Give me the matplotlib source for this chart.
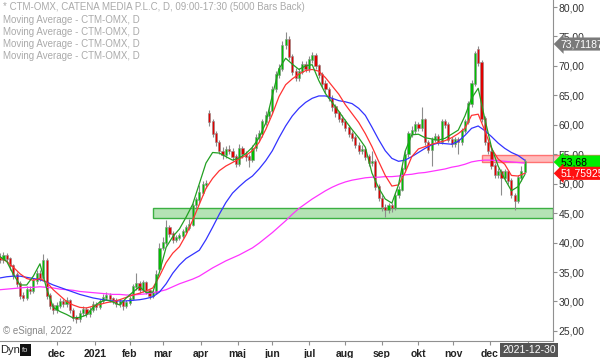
import numpy as np
import pandas as pd
import matplotlib
matplotlib.use('Agg')
import matplotlib.pyplot as plt
from matplotlib.patches import Rectangle

plt.rcParams['font.family'] = ['Liberation Sans', 'DejaVu Sans']

# ===== CTM-OMX daily candles (one candle per two trading days)
opens = [37.5, 37.0, 37.8, 37.2, 36.0, 34.5, 33.0, 31.0, 30.6, 32.0,
         31.8, 33.5, 34.8, 34.0, 37.0, 31.0, 29.3, 28.5, 29.3, 30.0,
         29.5, 30.2, 28.5, 27.2, 27.0, 28.0, 28.6, 27.8, 28.5, 29.5,
         29.0, 30.0, 30.6, 31.0, 30.4, 30.2, 29.5, 30.0, 29.2, 29.8,
         30.5, 32.5, 33.0, 32.0, 33.2, 31.8, 31.0, 31.5, 35.5, 39.0,
         40.0, 42.5, 41.5, 40.5, 40.8, 41.2, 41.8, 42.5, 43.0, 46.3,
         47.2, 48.5, 49.8, 61.8, 60.5, 58.5, 57.0, 55.5, 54.8, 55.8,
         55.5, 54.5, 53.3, 56.0, 55.0, 54.5, 54.0, 56.0, 57.8, 58.5,
         60.5, 61.5, 62.3, 66.0, 68.5, 69.5, 73.5, 74.5, 71.5, 69.0,
         68.0, 69.0, 70.2, 69.5, 71.0, 71.8, 70.0, 68.5, 67.0, 66.0,
         64.5, 63.0, 62.0, 61.0, 60.5, 59.5, 58.5, 57.8, 56.5, 55.5,
         55.8, 54.5, 53.5, 53.8, 49.5, 47.5, 46.0, 45.5, 46.3, 45.8,
         48.0, 49.0, 52.5, 55.0, 58.5, 59.0, 60.0, 59.5, 60.8, 57.0,
         55.8, 57.5, 58.0, 57.0, 60.5, 60.0, 57.5, 56.8, 57.5, 57.0,
         59.0, 60.5, 63.5, 67.0, 72.8, 70.5, 61.0, 57.0, 55.5, 53.0,
         51.5, 52.0, 51.0, 52.0, 50.5, 48.0, 47.0, 51.0, 52.0]
closes = [37.0, 37.8, 37.2, 36.0, 34.5, 33.0, 31.0, 30.6, 32.0, 31.8,
          33.5, 34.8, 34.0, 37.0, 31.0, 29.3, 28.5, 29.3, 30.0, 29.5,
          30.2, 28.5, 27.2, 27.0, 28.0, 28.6, 27.8, 28.5, 29.5, 29.0,
          30.0, 30.6, 31.0, 30.4, 30.2, 29.5, 30.0, 29.2, 29.8, 30.5,
          32.5, 33.0, 32.0, 33.2, 31.8, 31.0, 31.5, 34.5, 39.0, 40.0,
          42.5, 41.5, 40.5, 40.8, 41.2, 41.8, 42.5, 43.0, 46.3, 47.2,
          48.5, 49.8, 50.0, 60.5, 58.5, 57.0, 55.5, 54.8, 55.8, 55.5,
          54.5, 53.3, 56.0, 55.0, 54.5, 54.0, 56.0, 57.8, 58.5, 60.5,
          61.5, 62.3, 66.0, 68.5, 69.5, 73.5, 74.5, 71.5, 69.0, 68.0,
          69.0, 70.2, 69.5, 71.0, 71.8, 70.0, 68.5, 67.0, 66.0, 64.5,
          63.0, 62.0, 61.0, 60.5, 59.5, 58.5, 57.8, 56.5, 55.5, 55.8,
          54.5, 53.5, 53.8, 49.5, 47.5, 46.0, 45.5, 46.3, 45.8, 48.0,
          49.0, 52.5, 55.0, 58.5, 59.0, 60.0, 59.5, 60.8, 57.0, 55.8,
          57.5, 58.0, 57.0, 60.5, 60.0, 57.5, 56.8, 57.5, 57.0, 59.0,
          60.5, 63.5, 67.0, 72.0, 70.5, 61.0, 57.0, 55.5, 53.0, 51.5,
          52.0, 51.0, 52.0, 50.5, 48.0, 47.0, 51.0, 52.0, 53.68]
highs = [38.2, 38.4, 38.3, 37.6, 36.4, 35.0, 33.4, 31.6, 32.6, 32.6,
         34.0, 35.3, 35.4, 38.0, 37.4, 31.5, 29.8, 29.9, 30.6, 30.5,
         30.8, 30.5, 28.9, 27.7, 28.5, 29.2, 29.0, 29.0, 30.0, 29.9,
         30.5, 31.2, 31.6, 31.4, 30.8, 30.6, 30.5, 30.3, 30.3, 31.0,
         33.0, 34.8, 33.4, 33.7, 33.5, 32.2, 32.0, 35.3, 40.0, 41.0,
         43.8, 43.0, 41.9, 41.3, 41.7, 42.3, 43.0, 44.0, 46.8, 47.8,
         49.8, 50.4, 50.6, 62.5, 61.0, 59.0, 57.4, 56.3, 56.4, 56.6,
         56.0, 55.0, 56.8, 56.4, 55.6, 55.0, 56.6, 58.5, 59.2, 61.0,
         62.3, 63.0, 66.6, 69.2, 70.3, 74.2, 75.8, 75.0, 72.0, 69.6,
         69.6, 70.8, 70.8, 71.6, 72.3, 72.2, 70.4, 69.0, 67.6, 66.4,
         65.0, 63.6, 62.4, 61.6, 61.0, 60.0, 59.0, 58.2, 57.0, 56.5,
         56.2, 55.0, 55.5, 54.2, 50.0, 48.0, 46.6, 46.8, 46.8, 48.5,
         49.6, 53.0, 55.6, 59.0, 59.8, 60.6, 60.5, 63.0, 61.2, 57.5,
         58.0, 58.6, 58.4, 61.0, 61.0, 60.4, 58.0, 58.0, 58.0, 59.5,
         61.0, 64.0, 67.6, 72.5, 73.4, 71.0, 61.5, 57.5, 56.0, 53.5,
         52.6, 52.5, 52.5, 52.4, 51.0, 48.5, 51.5, 53.0, 54.2]
lows = [36.5, 36.6, 36.7, 35.4, 33.9, 32.4, 30.4, 30.0, 30.2, 31.2,
        31.4, 33.0, 33.5, 33.8, 30.5, 28.7, 27.8, 28.0, 28.9, 29.0,
        29.1, 28.0, 26.7, 26.4, 26.6, 27.6, 27.3, 27.4, 28.2, 28.5,
        28.7, 29.7, 30.2, 29.9, 29.6, 29.0, 29.1, 28.6, 28.9, 29.4,
        30.2, 32.0, 31.5, 31.6, 31.3, 30.5, 30.6, 31.2, 35.2, 38.8,
        39.6, 40.9, 40.0, 40.1, 40.4, 40.8, 41.4, 42.1, 42.8, 45.8,
        46.8, 48.0, 49.2, 59.8, 58.0, 56.4, 55.0, 54.2, 54.4, 55.0,
        53.8, 52.8, 53.0, 54.4, 53.9, 52.8, 53.6, 55.6, 57.2, 58.0,
        60.0, 60.9, 62.0, 65.6, 68.0, 69.2, 72.8, 71.0, 68.4, 67.4,
        67.5, 68.6, 68.9, 69.0, 70.5, 69.4, 68.0, 66.4, 65.4, 64.0,
        62.4, 61.4, 60.4, 60.0, 59.0, 57.9, 57.2, 56.0, 55.0, 55.0,
        54.0, 53.0, 53.0, 49.0, 47.0, 45.4, 44.3, 45.0, 45.2, 45.5,
        47.6, 48.8, 52.0, 54.6, 58.0, 58.5, 58.9, 59.0, 56.5, 55.2,
        53.0, 57.0, 56.5, 56.8, 59.4, 57.0, 56.2, 56.3, 55.0, 56.6,
        58.6, 60.2, 63.0, 66.6, 70.0, 60.5, 56.5, 55.0, 52.5, 51.0,
        51.0, 48.0, 50.5, 50.0, 47.5, 45.6, 46.8, 50.5, 51.6]

# ===== moving averages, sampled every second candle
ma_fast = [37.6, 36.8, 34.6, 32.8, 32.8, 34.3, 36.4, 32.2, 29.0, 28.3,
           27.8, 27.2, 27.3, 27.7, 29.0, 29.9, 30.3, 29.9, 29.4, 30.6,
           31.6, 32.5, 31.5, 31.6, 35.0, 39.2, 41.0, 42.3, 44.3, 46.5,
           50.0, 53.5, 55.3, 55.2, 54.6, 54.0, 54.4, 55.1, 56.2, 57.8,
           60.3, 65.0, 69.5, 71.3, 70.3, 69.4, 70.0, 70.2, 67.5, 65.3,
           63.8, 62.3, 60.7, 59.2, 57.8, 56.2, 51.8, 49.3, 47.4, 46.7,
           49.8, 55.5, 58.3, 58.4, 57.8, 57.6, 57.4, 57.7, 58.4, 59.1,
           61.5, 64.5, 66.2, 61.0, 56.2, 53.0, 50.8, 48.8, 49.5, 51.5]
ma_mid = [37.4, 36.8, 35.8, 34.7, 33.9, 33.6, 33.9, 33.3, 32.0, 31.0,
          30.0, 29.4, 29.0, 28.9, 29.2, 29.5, 29.8, 30.0, 30.3, 30.7,
          31.1, 31.4, 31.8, 32.3, 34.3, 36.6, 38.2, 39.3, 41.3, 43.8,
          46.5, 49.2, 50.9, 52.2, 53.0, 53.6, 54.2, 54.8, 55.6, 57.0,
          59.2, 61.8, 64.8, 66.8, 67.8, 68.6, 69.2, 69.4, 69.1, 68.0,
          66.6, 65.2, 63.4, 61.9, 60.4, 58.5, 56.3, 53.8, 51.4, 49.6,
          49.8, 51.9, 54.6, 55.9, 56.3, 56.7, 57.0, 57.3, 57.8, 58.5,
          59.4, 61.6, 61.8, 59.0, 56.0, 54.2, 53.3, 51.4, 51.3, 51.76]
ma_slow = [34.0, 34.2, 34.3, 34.3, 34.1, 33.9, 33.7, 33.3, 32.8, 32.4,
           32.0, 31.6, 31.2, 30.9, 30.6, 30.4, 30.2, 30.1, 30.1, 30.1,
           30.2, 30.3, 30.5, 30.8, 31.6, 33.0, 34.8, 36.2, 37.3, 38.0,
           38.7, 40.5, 42.6, 44.8, 46.8, 48.4, 49.5, 50.5, 51.3, 52.5,
           53.9, 55.6, 57.8, 59.8, 61.5, 62.8, 63.8, 64.5, 64.9, 64.9,
           64.5, 64.1, 63.9, 63.6, 62.8, 61.6, 59.6, 57.5, 55.6, 54.3,
           53.8, 54.0, 54.6, 55.3, 56.0, 56.6, 56.9, 56.8, 56.7, 57.2,
           58.2, 59.4, 59.8, 59.0, 58.0, 56.9, 56.0, 55.3, 54.8, 54.0]
ma_long = [32.0, 32.1, 32.2, 32.3, 32.4, 32.4, 32.5, 32.4, 32.3, 32.1,
           32.0, 31.9, 31.7, 31.6, 31.5, 31.4, 31.3, 31.2, 31.2, 31.1,
           31.1, 31.2, 31.3, 31.5, 31.7, 32.0, 32.5, 33.0, 33.4, 33.8,
           34.3, 35.0, 35.7, 36.3, 36.9, 37.4, 37.9, 38.5, 39.1, 39.9,
           40.8, 41.7, 42.7, 43.7, 44.8, 45.8, 46.6, 47.4, 48.1, 48.8,
           49.4, 49.9, 50.3, 50.6, 50.8, 51.0, 51.1, 51.1, 51.2, 51.2,
           51.3, 51.5, 51.6, 51.8, 51.9, 52.1, 52.3, 52.5, 52.8, 53.0,
           53.3, 53.7, 53.9, 54.0, 54.0, 53.9, 53.8, 53.7, 53.6, 53.5]

# zones drawn on the chart (start date, low, high)
support_zone = ('2021-02-19', 44.2, 45.9)
resist_zone = ('2021-11-24', 53.7, 54.9)

last_price = 53.68
last_ma = 51.759257
marker_value = 73.711871
month_names = ['jan', 'feb', 'mar', 'apr', 'maj', 'jun', 'jul', 'aug', 'sep', 'okt', 'nov', 'dec']

dates = pd.bdate_range(end='2021-12-30', periods=len(closes), freq='2B')


def bday(d):
    # trading day ordinal (weekdays)
    return np.busday_count('2000-01-03', np.array(pd.to_datetime(d), dtype='datetime64[D]'))


def comma(v, n):
    return ('%.*f' % (n, v)).replace('.', ',')


x = bday(dates).astype(float)
x_ma = x[::2]
px_per_day = 1.66
x_anchor = float(bday(pd.Timestamp('2022-01-03')))
x_left = x_anchor - 528 / px_per_day
x_right = x_anchor + 25 / px_per_day

fig = plt.figure(figsize=(6, 3.58), dpi=100)
ax = fig.add_axes([0, 17 / 358, 553 / 600, 341 / 358])
ax.set_xlim(x_left, x_right)
ax.set_ylim(23.29, 81.19)

# zones
zs = float(bday(pd.Timestamp(support_zone[0])))
ax.add_patch(Rectangle((zs, support_zone[1]), x_right - zs, support_zone[2] - support_zone[1],
                       facecolor='#b5e3b5', edgecolor='#3cb043', lw=1, zorder=1))
zr = float(bday(pd.Timestamp(resist_zone[0])))
ax.add_patch(Rectangle((zr, resist_zone[1]), x_right + 60 - zr, resist_zone[2] - resist_zone[1],
                       facecolor='#ffb0b0', edgecolor='#ff6060', lw=1, alpha=0.85, zorder=1, clip_on=False))

# candles
o = np.array(opens)
c = np.array(closes)
ax.vlines(x, lows, highs, color='#8c8c8c', lw=0.8, zorder=2)
body_col = np.where(c >= o, '#00c000', '#e00000')
ax.bar(x, np.abs(c - o) + 0.12, bottom=np.minimum(o, c), width=1.3, color=body_col,
       edgecolor='#8c8c8c', linewidth=0.4, zorder=3)

# moving averages
ax.plot(x_ma, ma_long, color='#ff33ff', lw=0.9, zorder=4)
ax.plot(x_ma, ma_slow, color='#3333ff', lw=0.9, zorder=4)
ax.plot(x_ma, ma_mid, color='#ff3333', lw=0.9, zorder=4)
ax.plot(x_ma, ma_fast, color='#22a022', lw=0.9, zorder=4)

# axes formatting
for s in ['left', 'top']:
    ax.spines[s].set_visible(False)
for s in ['right', 'bottom']:
    ax.spines[s].set_color('#909090')
ax.yaxis.tick_right()
yt = np.arange(25, 81, 5)
ax.set_yticks(yt)
ax.set_yticklabels([comma(v, 2) for v in yt])
ax.tick_params(axis='y', direction='out', length=3, pad=1, labelsize=7.5,
               colors='#909090', labelcolor='#333333')
mstarts = pd.date_range('2020-12-01', '2022-01-01', freq='MS')
ax.set_xticks(bday(mstarts).astype(float))
ax.set_xticklabels([str(d.year) if (d.month == 1 and d.year == 2021) else ('' if d.year == 2022 else month_names[d.month - 1])
                    for d in mstarts], fontweight='bold')
ax.tick_params(axis='x', direction='out', length=3, pad=3, labelsize=7.5,
               colors='#909090', labelcolor='#222222')

# value labels on the price axis
lab = dict(transform=ax.get_yaxis_transform(), fontsize=7.5, va='center', ha='left', clip_on=False, zorder=6)
ax.text(1.014, marker_value, comma(marker_value, 6), color='white',
        bbox=dict(boxstyle='larrow,pad=0.15', fc='#7a7a7a', ec='none'), **lab)
ax.text(1.014, last_price, comma(last_price, 2) + '      ', color='black',
        bbox=dict(boxstyle='larrow,pad=0.15', fc='#00ee00', ec='none'), **lab)
ax.text(1.014, last_ma, comma(last_ma, 6), color='white',
        bbox=dict(boxstyle='larrow,pad=0.15', fc='#ff1010', ec='none'), **lab)

# header texts
fig.text(0.005, 1 - 7 / 358, '* CTM-OMX, CATENA MEDIA P.L.C, D, 09:00-17:30 (5000 Bars Back)',
         fontsize=7, color='#aaaaaa', va='center')
for k in range(4):
    fig.text(0.005, 1 - (20 + 12 * k) / 358, 'Moving Average - CTM-OMX, D',
             fontsize=7, color='#aaaaaa', va='center')
fig.text(0.005, 1 - 331 / 358, '\u00a9 eSignal, 2022', fontsize=7, color='#888888', va='center')

# bottom bar
fig.text(0.0, 1 - 350 / 358, 'Dyn', fontsize=8, color='#222222', va='center')
fig.text(22 / 600, 1 - 350 / 358, 'fo', fontsize=5.5, color='#dddddd', va='center',
         bbox=dict(boxstyle='square,pad=0.3', fc='#111111', ec='none'))
fig.text(529 / 600, 1 - 350 / 358, '2021-12-30', fontsize=7.5, color='white', va='center', ha='center',
         bbox=dict(boxstyle='square,pad=0.2', fc='#555555', ec='none'))

fig.savefig('out.png', dpi=100)
